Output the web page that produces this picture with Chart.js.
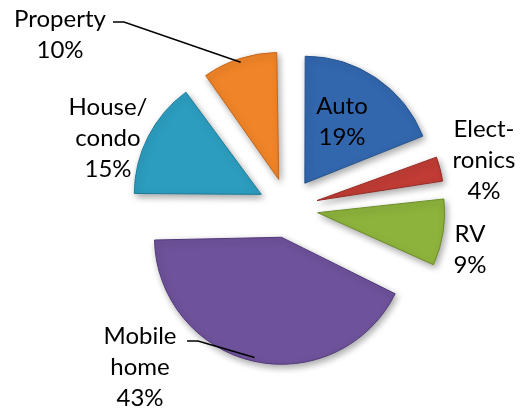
<!DOCTYPE html>
<html>
<head>
<meta charset="utf-8">
<script src="https://cdn.jsdelivr.net/npm/chart.js@4"></script>
<style>
    html, body { margin: 0; padding: 0; background: #fff; }
    #wrap { width: 521px; height: 413px; }
</style>
</head>
<body>
<div id="wrap"><canvas id="pieChart" width="521" height="413"></canvas></div>
<script>
// Chart data
const categories = ['Auto', 'Electronics', 'RV', 'Mobile home', 'House/condo', 'Property'];
const shares = [19, 4, 9, 43, 15, 10];
// label text lines, as printed on the chart
const labelLines = [
    ['Auto', '19%'],
    ['Elect-', 'ronics', '4%'],
    ['RV', '9%'],
    ['Mobile', 'home', '43%'],
    ['House/', 'condo', '15%'],
    ['Property', '10%']
];

const sliceColors = ['#3267AE', '#C03C35', '#8DB33C', '#6E529B', '#2C9DBF', '#F08428'];
const edgeColors = ['#24518C', '#962A25', '#6C8C28', '#53397A', '#1F7C98', '#C4661A'];

// label centre, relative to the pie centre (px)
const labelPos = [[54, -86], [196, -48], [182, 42], [-148, 159], [-180, -70], [-228, -173]];
// leader lines: start point relative to the label centre (or null)
const leaderStart = [null, null, null, [47, -26], null, [53, -13]];

const EXPLODE = 30; // distance of every slice from the centre
const FONT = '24px Lato, "Liberation Sans", sans-serif';
const LINE_H = 31;

const labelPlugin = {
    id: 'sliceLabels',
    afterUpdate(chart) {
        // chart.js v4 grows the radius of exploded thin slices; take it back
        chart.getDatasetMeta(0).data.forEach(arc => {
            const circ = arc.endAngle - arc.startAngle;
            const fix = 1 - Math.sin(Math.min(Math.PI, circ));
            arc.outerRadius = arc.outerRadius - EXPLODE * fix;
        });
    },
    beforeDatasetsDraw(chart) {
        const ctx = chart.ctx;
        ctx.save();
        ctx.shadowColor = 'rgba(0,0,0,0.35)';
        ctx.shadowBlur = 7;
        ctx.shadowOffsetX = 2;
        ctx.shadowOffsetY = 3;
    },
    afterDatasetsDraw(chart) {
        const ctx = chart.ctx;
        ctx.restore();
        const meta = chart.getDatasetMeta(0);
        ctx.save();
        ctx.font = FONT;
        ctx.fillStyle = '#000';
        ctx.textAlign = 'center';
        ctx.textBaseline = 'middle';
        meta.data.forEach((arc, i) => {
            const cx = arc.x, cy = arc.y;
            const lx = cx + labelPos[i][0];
            const ly = cy + labelPos[i][1];
            const lines = labelLines[i];
            lines.forEach((t, k) => {
                ctx.fillText(t, lx, ly + (k - (lines.length - 1) / 2) * LINE_H);
            });
            if (leaderStart[i]) {
                const mid = (arc.startAngle + arc.endAngle) / 2;
                const d = EXPLODE + 127 * 0.97;
                const ex = cx + Math.cos(mid) * d;
                const ey = cy + Math.sin(mid) * d;
                const sx = lx + leaderStart[i][0];
                const sy = ly + leaderStart[i][1];
                ctx.strokeStyle = '#000';
                ctx.lineWidth = 1.5;
                ctx.beginPath();
                ctx.moveTo(sx, sy);
                ctx.lineTo(sx + 11, sy);
                ctx.lineTo(ex, ey);
                ctx.stroke();
            }
        });
        ctx.restore();
    }
};

new Chart(document.getElementById('pieChart'), {
    type: 'pie',
    data: {
        labels: categories,
        datasets: [{
            data: shares,
            backgroundColor: sliceColors,
            borderColor: edgeColors,
            borderWidth: 1,
            offset: EXPLODE * 4,
            radius: 127
        }]
    },
    options: {
        responsive: false,
        animation: false,
        layout: { padding: { left: 55, top: 3, right: 0, bottom: 0 } },
        plugins: {
            legend: { display: false },
            tooltip: { enabled: false }
        }
    },
    plugins: [labelPlugin]
});
</script>
</body>
</html>
